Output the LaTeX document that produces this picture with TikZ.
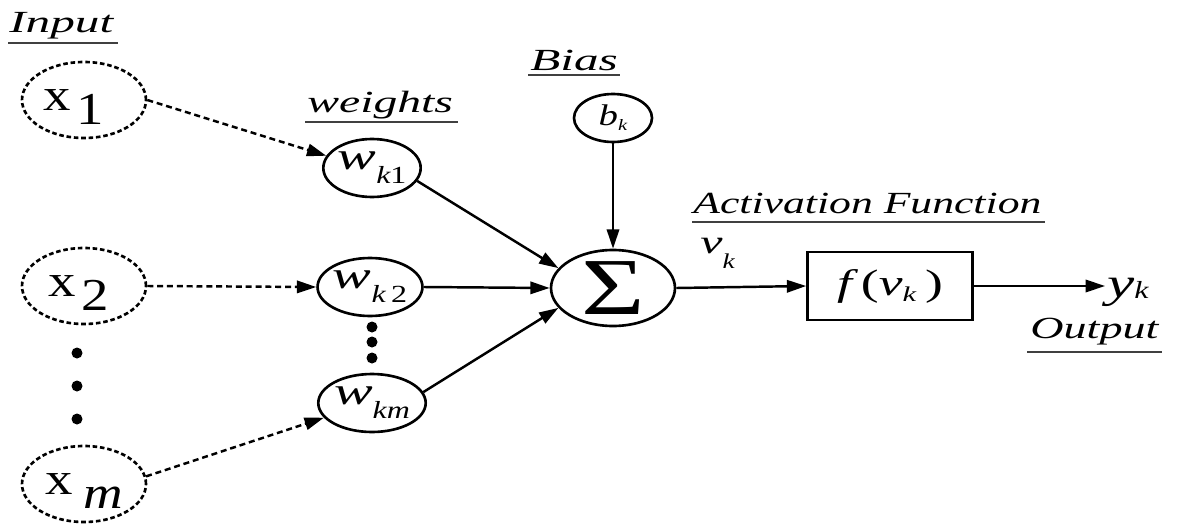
\documentclass[tikz,border=0pt]{standalone}
\usepackage{fontspec}
\usepackage{graphicx}
\setmainfont{Liberation Serif}
\usetikzlibrary{shapes.geometric,arrows.meta}
\def\px{0.569055pt}
\newcommand\st[2][1.45]{\scalebox{#1}[1]{#2}}
\tikzset{
  inp/.style={ellipse, draw, line width=1.5pt, dash pattern=on 2.6pt off 1.6pt, minimum width=124*\px, minimum height=76*\px, inner sep=0pt, font=\fontsize{26}{26}\selectfont},
  wnode/.style={ellipse, draw, line width=1.5pt, minimum width=94*\px, minimum height=58*\px, inner sep=0pt, font=\itshape\fontsize{22}{22}\selectfont},
  dotn/.style={circle, fill, inner sep=0pt, minimum size=11*\px},
  conn/.style={line width=1.4pt, -{Triangle[length=11pt,width=7pt]}},
  dconn/.style={conn, dash pattern=on 3.4pt off 2.2pt},
  lbl/.style={anchor=base west, inner sep=0pt, font=\itshape\fontsize{17.5}{18}\selectfont},
  uline/.style={line width=1.1pt, black!75},
}
\begin{document}
\begin{tikzpicture}[x=0.02cm, y=-0.02cm]
\useasboundingbox (0,0) rectangle (1196,524);
% labels
\node[lbl] (linput) at (9,32) {\st[1.6]{Input}};
\draw[uline] (8,43) -- (118,43);
\node[lbl] (lweights) at (307,112) {\st[1.55]{weights}};
\draw[uline] (305,122) -- (458,122);
\node[lbl] (lbias) at (530,70) {\st[1.6]{Bias}};
\draw[uline] (528,75) -- (620,75);
\node[lbl] (lact) at (693,213) {\st[1.42]{Activation Function}};
\draw[uline] (692,222) -- (1045,222);
\node[lbl] (lout) at (1030,338) {\st[1.5]{Output}};
\draw[uline] (1027,352) -- (1162,352);
% inputs
\node[inp] (in1) at (84,100) {\st[1.2]{x}\hspace{3pt}\raisebox{-8pt}[0pt][0pt]{\st[1.2]{1}}\hspace*{12pt}};
\node[inp] (in2) at (84,286) {\st[1.2]{x}\hspace{3pt}\raisebox{-8pt}[0pt][0pt]{\st[1.2]{2}}\hspace*{6pt}};
\node[inp] (inm) at (84,484) {\st[1.2]{x}\hspace{6pt}\raisebox{-8pt}[0pt][0pt]{\st[1.2]{\itshape m}}};
\node[dotn] (d1) at (77,353) {};
\node[dotn] (d2) at (77,386) {};
\node[dotn] (d3) at (77,419) {};
% weights
\node[wnode] (w1) at (372,168) {\st[1.5]{w}\raisebox{-8pt}{\fontsize{14}{14}\selectfont\st[1.3]{k\upshape 1}}};
\node[wnode] (w2) at (370,287) {\st[1.5]{w}\raisebox{-8pt}{\fontsize{14}{14}\selectfont\st[1.3]{k\,\upshape 2}}};
\node[wnode] (wm) at (372,403) {\st[1.5]{w}\raisebox{-8pt}{\fontsize{14}{14}\selectfont\st[1.3]{km}}};
\node[dotn] (e1) at (372,327) {};
\node[dotn] (e2) at (372,342) {};
\node[dotn] (e3) at (372,358) {};
% sum, bias
\node[ellipse, draw, line width=1.5pt, minimum width=124*\px, minimum height=76*\px, inner sep=0pt, font=\fontsize{46}{46}\selectfont] (sum) at (613,288) {\st[1.35]{Σ}};
\node[ellipse, draw, line width=1.5pt, minimum width=78*\px, minimum height=48*\px, inner sep=0pt, font=\itshape\fontsize{17}{17}\selectfont] (bias) at (613,118) {\st[1.3]{b}\raisebox{-3pt}{\fontsize{9}{9}\selectfont\st[1.3]{k}}};
% activation box
\node[draw, line width=1.5pt, minimum width=165*\px, minimum height=68*\px, inner sep=0pt, font=\fontsize{21}{21}\selectfont] (box) at (890,286) {\st[1.45]{\itshape f\,\upshape(\itshape v\raisebox{-3.5pt}{\fontsize{12}{12}\selectfont k}\,\upshape)}};
\node[anchor=base west, inner sep=0pt, font=\itshape\fontsize{19}{19}\selectfont] (vk) at (700,253) {\st[1.5]{v}\raisebox{-9pt}{\fontsize{12}{12}\selectfont\st[1.3]{k}}};
\node[anchor=base west, inner sep=1pt, font=\itshape\fontsize{24}{24}\selectfont] (yk) at (1105,297) {\st[1.45]{y}\raisebox{-1pt}{\fontsize{14}{14}\selectfont\st[1.3]{k}}};
% connectors
\draw[dconn] (in1.east) -- (w1.165);
\draw[dconn] (in2.east) -- (w2.west);
\draw[dconn] (inm.7) -- (wm.197);
\draw[conn] (w1.-16) -- (sum.160);
\draw[conn] (w2.east) -- (sum.west);
\draw[conn] (wm.12) -- (sum.200);
\draw[conn] (bias.south) -- (sum.north);
\draw[conn] (sum.east) -- (box.west);
\draw[conn] (box.east) -- (box.east -| yk.west);
\end{tikzpicture}
\end{document}
